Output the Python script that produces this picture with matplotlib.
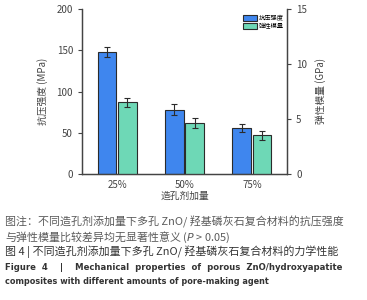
"""
Figure 4: mechanical properties of porous ZnO/hydroxyapatite composites
(compressive strength on left axis, elastic modulus on right axis).
"""

import numpy as np
import matplotlib
matplotlib.use("Agg")
import matplotlib.pyplot as plt
from matplotlib.patches import Patch

plt.rcParams["font.family"] = ["Noto Sans CJK SC", "DejaVu Sans"]

# data
groups = ["25%", "50%", "75%"]
strength = [148, 78, 56]          # MPa
strength_err = [6, 7, 5]
modulus = [6.5, 4.65, 3.5]        # GPa
modulus_err = [0.45, 0.47, 0.44]

blue = "#3f86ee"
green = "#6ed8b6"
edge = "#2b2b2b"

fig = plt.figure(figsize=(3.67, 3.00), dpi=100)
ax = fig.add_axes([82 / 367, 1 - 174 / 300, 205 / 367, 165 / 300])
ax2 = ax.twinx()

x = np.arange(len(groups))
w = 0.28
off = 0.15

ax.bar(x - off, strength, w, color=blue, edgecolor=edge, linewidth=0.8,
       yerr=strength_err, error_kw=dict(ecolor=edge, elinewidth=0.8, capsize=2, capthick=0.8))
ax2.bar(x + off, modulus, w, color=green, edgecolor=edge, linewidth=0.8,
        yerr=modulus_err, error_kw=dict(ecolor=edge, elinewidth=0.8, capsize=2, capthick=0.8))

ax.set_xlim(-0.52, 2.52)
ax.set_ylim(0, 200)
ax2.set_ylim(0, 15)
ax.set_yticks([0, 50, 100, 150, 200])
ax2.set_yticks([0, 5, 10, 15])
ax.set_xticks(x)
ax.set_xticklabels(groups)

for a in (ax, ax2):
    a.spines["top"].set_visible(False)
    for s in ("left", "right", "bottom"):
        a.spines[s].set_color("#444444")
        a.spines[s].set_linewidth(0.9)
    a.tick_params(labelsize=7, colors="#444444", length=3, width=0.8)
ax.tick_params(axis="x", length=0, pad=4)

ax.set_ylabel("抗压强度 (MPa)", fontsize=7, color="#444444", labelpad=6)
ax2.set_ylabel("弹性模量 (GPa)", fontsize=7, color="#444444", labelpad=6)
ax.set_xlabel("造孔剂加量", fontsize=7, color="#444444", labelpad=1)

handles = [Patch(facecolor=blue, edgecolor=edge, linewidth=0.8),
           Patch(facecolor=green, edgecolor=edge, linewidth=0.8)]
ax.legend(handles, ["抗压强度", "弹性模量"], loc="upper right", fontsize=4.5,
          frameon=False, handlelength=2.2, handleheight=1.1,
          borderaxespad=0.1, labelspacing=0.0, handletextpad=0.3,
          bbox_to_anchor=(1.0, 0.99))

# caption
cap = "#333333"
fig.text(5 / 367, 1 - 222 / 300, "图注：不同造孔剂添加量下多孔 ZnO/ 羟基磷灰石复合材料的抗压强度",
         fontsize=7.9, color="#5a5a5a", va="center")
fig.text(5 / 367, 1 - 237 / 300, "与弹性模量比较差异均无显著性意义 ($P$ > 0.05)",
         fontsize=7.9, color="#5a5a5a", va="center")
fig.text(5 / 367, 1 - 252 / 300, "图 4 | 不同造孔剂添加量下多孔 ZnO/ 羟基磷灰石复合材料的力学性能",
         fontsize=7.9, color=cap, va="center")
fig.text(5 / 367, 1 - 267 / 300,
         "Figure  4    |    Mechanical  properties  of  porous  ZnO/hydroxyapatite",
         fontsize=6.1, color=cap, va="center", fontweight="bold", family="DejaVu Sans")
fig.text(5 / 367, 1 - 282 / 300, "composites with different amounts of pore-making agent",
         fontsize=5.85, color=cap, va="center", fontweight="bold", family="DejaVu Sans")

plt.savefig("out.png", dpi=100)
